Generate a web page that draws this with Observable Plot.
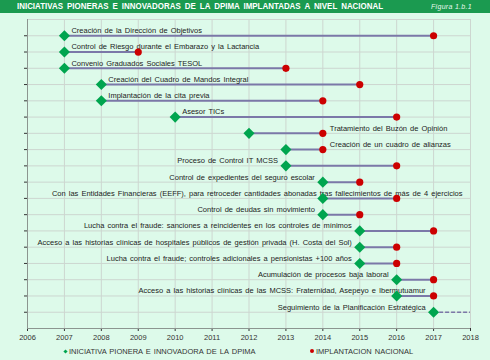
<!DOCTYPE html>
<html>
<head>
<meta charset="utf-8">
<script src="https://cdn.jsdelivr.net/npm/d3@7"></script>
<script src="https://cdn.jsdelivr.net/npm/@observablehq/plot@0.6"></script>
<style>
  html, body { margin: 0; padding: 0; background: #ddfaea; width: 490px; height: 360px; overflow: hidden; }
  body { font-family: "Liberation Sans", Arial, sans-serif; }
  #title { position: relative; height: 13px; background: #1b9a50; color: #fff; }
  #title .t { position: absolute; left: 17px; top: 0; line-height: 13px; font-size: 8.5px; font-weight: bold; word-spacing: 2px; white-space: nowrap; transform-origin: 0 50%; }
  #title .f { position: absolute; right: 18px; top: 0; line-height: 13px; font-size: 7px; font-style: italic; color: #e8f8ee; letter-spacing: 0.3px; }
  #chart { height: 331px; }
  #legend { position: relative; height: 14px; font-size: 7.5px; color: #333; word-spacing: 1px; }
  #legend .item { position: absolute; top: 2px; line-height: 12px; white-space: nowrap; }
  #legend .sw { display: inline-block; vertical-align: middle; margin-right: 2px; margin-top: -2px; }
</style>
</head>
<body>
<div id="title"><span class="t" id="ttl">INICIATIVAS PIONERAS E INNOVADORAS DE LA DPIMA IMPLANTADAS A NIVEL NACIONAL</span><span class="f">Figura 1.b.1</span></div>
<div id="chart"></div>
<div id="legend">
  <span class="item" style="left:64px"><span class="sw" style="width:3px;height:3px;background:#00a54f;transform:rotate(45deg)"></span>INICIATIVA PIONERA E INNOVADORA DE LA DPIMA</span>
  <span class="item" style="left:310px"><span class="sw" style="width:4px;height:4px;border-radius:50%;background:#cc0000"></span>IMPLANTACION NACIONAL</span>
</div>
<script>
const initiatives = [
  "Creación de la Dirección de Objetivos",
  "Control de Riesgo durante el Embarazo y la Lactancia",
  "Convenio Graduados Sociales TESOL",
  "Creación del Cuadro de Mandos Integral",
  "Implantación de la cita previa",
  "Asesor TICs",
  "Tratamiento del Buzón de Opinión",
  "Creación de un cuadro de alianzas",
  "Proceso de Control IT MCSS",
  "Control de expedientes del seguro escolar",
  "Con las Entidades Financieras (EEFF), para retroceder cantidades abonadas tras fallecimientos de más de 4 ejercicios",
  "Control de deudas sin movimiento",
  "Lucha contra el fraude: sanciones a reincidentes en los controles de mínimos",
  "Acceso a las historias clínicas de hospitales públicos de gestión privada (H. Costa del Sol)",
  "Lucha contra el fraude; controles adicionales a pensionistas +100 años",
  "Acumulación de procesos baja laboral",
  "Acceso a las historias clínicas de las MCSS: Fraternidad, Asepeyo e Ibermutuamur",
  "Seguimiento de la Planificación Estratégica"
];
const pioneerYear  = [2007, 2007, 2007, 2008, 2008, 2010, 2012, 2013, 2013, 2014, 2014, 2014, 2015, 2015, 2015, 2016, 2016, 2017];
const nationalYear = [2017, 2009, 2013, 2015, 2014, 2016, 2014, 2014, 2016, 2015, 2016, 2015, 2017, 2016, 2016, 2017, 2017, null];
// label anchor (year on the x scale) and which side of it the text sits
const labelYear   = [2007, 2007, 2007, 2008, 2008, 2010, 2014, 2014, 2013, 2014, 2018, 2014, 2015, 2015, 2015, 2016, 2017, 2017];
const labelAnchor = ["start","start","start","start","start","start","start","start","end","end","end","end","end","end","end","end","end","end"];
const years = [2006, 2007, 2008, 2009, 2010, 2011, 2012, 2013, 2014, 2015, 2016, 2017, 2018];

const rows = initiatives.map((name, i) => ({
  row: i + 1,
  name,
  start: pioneerYear[i],
  end: nationalYear[i],
  lx: labelYear[i],
  anchor: labelAnchor[i]
}));
const gridRows = d3.range(0, rows.length + 2);
const xMin = years[0], xMax = years[years.length - 1];
const yMax = rows.length + 1;

const done = rows.filter(d => d.end != null);
const ongoing = rows.filter(d => d.end == null).map(d => ({...d, end: xMax}));

const chart = Plot.plot({
  width: 490,
  height: 331,
  marginLeft: 27,
  marginRight: 20,
  marginTop: 6,
  marginBottom: 16,
  style: {background: "transparent", fontFamily: "'Liberation Sans', Arial, sans-serif", fontSize: "7.5px", color: "#333", wordSpacing: "1px"},
  x: {domain: [xMin, xMax], ticks: years, tickFormat: "d", tickSize: 3, tickPadding: 3, label: null},
  y: {domain: [0, yMax], reverse: true, ticks: rows.map(d => d.row), tickFormat: () => "", tickSize: 3, label: null},
  marks: [
    Plot.ruleX(years, {stroke: "#cdd6d0", strokeWidth: 1}),
    Plot.ruleY(gridRows, {stroke: "#cdd6d0", strokeWidth: 1}),
    Plot.ruleX([xMin], {stroke: "#8c9590"}),
    Plot.ruleY([yMax], {stroke: "#8c9590"}),
    Plot.ruleY(done, {y: "row", x1: "start", x2: "end", stroke: "#7b78a8", strokeWidth: 2}),
    Plot.ruleY(ongoing, {y: "row", x1: "start", x2: "end", stroke: "#7b78a8", strokeWidth: 1.5, strokeDasharray: "4,2"}),
    Plot.text(rows.filter(d => d.anchor === "start"), {x: "lx", y: "row", text: "name", textAnchor: "start", dx: 7, dy: -5, fill: "#222", fontSize: 7.5}),
    Plot.text(rows.filter(d => d.anchor === "end"), {x: "lx", y: "row", text: "name", textAnchor: "end", dx: -8, dy: -5, fill: "#222", fontSize: 7.5}),
    Plot.dot(done, {x: "end", y: "row", r: 3.6, fill: "#cc0000", stroke: "none"}),
    Plot.dot(rows, {x: "start", y: "row", symbol: "diamond2", r: 5, fill: "#00a54f", stroke: "none"})
  ]
});
document.getElementById("chart").appendChild(chart);

// fit the title to the width it takes in the reference
const ttl = document.getElementById("ttl");
const w = ttl.getBoundingClientRect().width;
if (w > 0) ttl.style.transform = `scaleX(${366 / w})`;
</script>
</body>
</html>
